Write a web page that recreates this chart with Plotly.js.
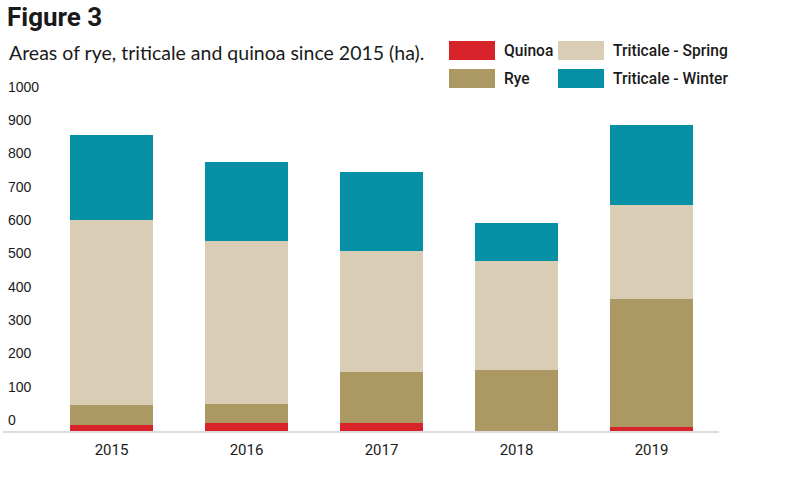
<!DOCTYPE html>
<html>
<head>
<meta charset="utf-8">
<script src="https://cdn.plot.ly/plotly-3.0.1.min.js"></script>
<style>
  html, body { margin: 0; padding: 0; background: #ffffff; }
  #chart { width: 790px; height: 484px; }
</style>
</head>
<body>
<div id="chart"></div>
<script>
// ---- Data (hectares) ----
const years = ['2015', '2016', '2017', '2018', '2019'];
const quinoa = [17, 25, 25, 0, 13];
const rye = [60, 57, 151, 184, 383];
const triticaleSpring = [557, 487, 363, 327, 283];
const triticaleWinter = [254, 239, 239, 113, 239];
const yTickValues = [0, 100, 200, 300, 400, 500, 600, 700, 800, 900, 1000];
const yTickLabels = ['0', '100', '200', '300', '400', '500', '600', '700', '800', '900', '1000'];

const seriesNames = ['Quinoa', 'Rye', 'Triticale - Spring', 'Triticale - Winter'];
const seriesValues = [quinoa, rye, triticaleSpring, triticaleWinter];
const seriesColors = ['#D9232B', '#AB9863', '#D9CDB6', '#0590A6'];

// ---- Geometry ----
const W = 790, H = 484;
const M = { l: 3, r: 71, t: 81, b: 53 };
const plotW = W - M.l - M.r, plotH = H - M.t - M.b;
const px2paperX = px => (px - M.l) / plotW;
const px2paperY = py => (H - M.b - py) / plotH;

const traces = seriesNames.map((name, i) => ({
  type: 'bar',
  name: name,
  x: years,
  y: seriesValues[i],
  marker: { color: seriesColors[i], line: { width: 0 } },
  hoverinfo: 'x+y+name',
  showlegend: false
}));

// ---- Custom legend (large swatches) ----
const legendSlots = [
  { sx: 449, sy: 41 },  // Quinoa
  { sx: 449, sy: 69 },  // Rye
  { sx: 558, sy: 41 },  // Triticale - Spring
  { sx: 558, sy: 69 }   // Triticale - Winter
];
const swW = 46, swH = 19, txtGap = 7;
const shapes = [];
const annotations = [];
seriesNames.forEach((name, i) => {
  const s = legendSlots[i];
  shapes.push({
    type: 'rect', xref: 'paper', yref: 'paper',
    x0: px2paperX(s.sx), x1: px2paperX(s.sx + swW),
    y0: px2paperY(s.sy + swH), y1: px2paperY(s.sy),
    fillcolor: seriesColors[i], line: { width: 0 }, layer: 'above'
  });
  annotations.push({
    xref: 'paper', yref: 'paper',
    x: px2paperX(s.sx + swW + txtGap), y: px2paperY(s.sy + swH / 2 + 0.5),
    xanchor: 'left', yanchor: 'middle', showarrow: false,
    text: name,
    font: { family: 'Roboto, sans-serif', size: 15.6, weight: 500, color: '#1a1a1a' }
  });
});

// Subtitle
annotations.push({
  xref: 'paper', yref: 'paper',
  x: px2paperX(7), y: px2paperY(53),
  xanchor: 'left', yanchor: 'middle', showarrow: false,
  text: 'Areas of rye, triticale and quinoa since 2015 (ha).',
  font: { family: 'Lato, Open Sans, sans-serif', size: 19.5, color: '#1a1a1a' }
});

const layout = {
  width: W, height: H,
  margin: M,
  paper_bgcolor: '#ffffff',
  plot_bgcolor: '#ffffff',
  barmode: 'stack',
  bargap: 0.385,
  showlegend: false,
  title: {
    text: '<b>Figure 3</b>',
    font: { family: 'Roboto, sans-serif', size: 26, color: '#1a1a1a' },
    xref: 'container', yref: 'container',
    x: 7 / W, xanchor: 'left',
    y: 1 - 8 / H, yanchor: 'top',
    pad: { t: 0, b: 0, l: 0, r: 0 }
  },
  xaxis: {
    type: 'category',
    range: [-0.5 - (111.5 - M.l - 67.5) / 135, 4.5],
    showline: true, linecolor: '#dcdcdc', linewidth: 1.5,
    showgrid: false, zeroline: false,
    ticks: '',
    tickfont: { family: 'Roboto, sans-serif', size: 15, color: '#1a1a1a' },
    ticklabelstandoff: 4,
    fixedrange: true
  },
  yaxis: {
    range: [0, 1050],
    showline: false, showgrid: false, zeroline: false,
    ticks: '',
    tickvals: yTickValues,
    ticktext: yTickLabels,
    ticklabelposition: 'inside',
    ticklabeloverflow: 'allow',
    ticklabelshift: -11,
    ticklabelstandoff: 2,
    tickfont: { family: 'Liberation Sans, Arial, sans-serif', size: 14, color: '#1a1a1a' },
    fixedrange: true
  },
  shapes: shapes,
  annotations: annotations
};

Plotly.newPlot('chart', traces, layout, { displayModeBar: false, staticPlot: true });
</script>
</body>
</html>
